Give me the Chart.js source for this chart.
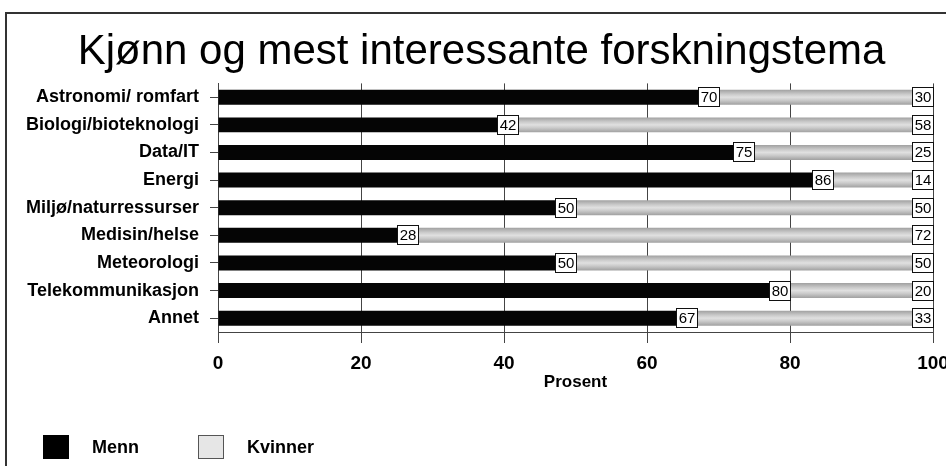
<!DOCTYPE html>
<html><head><meta charset="utf-8">
<script src="https://cdn.jsdelivr.net/npm/chart.js@4/dist/chart.umd.min.js"></script>
<style>
html,body{margin:0;padding:0;background:#fff;overflow:hidden;width:946px;height:466px;}
#wrap{position:absolute;left:0;top:0;width:960px;height:466px;}
#frame{position:absolute;left:5px;top:12px;width:1000px;height:500px;border-left:2px solid #333;border-top:2px solid #333;pointer-events:none;}
</style></head><body>
<div id="wrap"><canvas id="c" width="960" height="466"></canvas></div>
<div id="frame"></div>
<script>
const categories = ['Astronomi/ romfart','Biologi/bioteknologi','Data/IT','Energi','Miljø/naturressurser','Medisin/helse','Meteorologi','Telekommunikasjon','Annet'];
const menn = [70,42,75,86,50,28,50,80,67];
const kvinner = [30,58,25,14,50,72,50,20,33];
const xTicks = [0,20,40,60,80,100];
const seriesNames = ['Menn','Kvinner'];
const titleText = 'Kjønn og mest interessante forskningstema';
const axisTitle = 'Prosent';

const FONT = '"Liberation Sans", Arial, sans-serif';
const INK = '#000';

function greyFill(ctx){
  const chart = ctx.chart;
  const y = chart.scales && chart.scales.y;
  if (!chart.chartArea || !y || ctx.dataIndex === undefined) return '#cfcfcf';
  const c = y.getPixelForValue(ctx.dataIndex);
  const g = chart.ctx.createLinearGradient(0, c - 7.5, 0, c + 7.5);
  g.addColorStop(0, '#a0a0a0');
  g.addColorStop(0.3, '#cacaca');
  g.addColorStop(0.5, '#e0e0e0');
  g.addColorStop(0.7, '#cacaca');
  g.addColorStop(1, '#a0a0a0');
  return g;
}

const titleShift = {
  id: 'titleShift',
  afterLayout(chart){
    if (chart.titleBlock) chart.titleBlock.left = 30;
  }
};

const boxLabels = {
  id: 'boxLabels',
  afterDatasetsDraw(chart){
    const ctx = chart.ctx;
    ctx.save();
    ctx.font = '15px ' + FONT;
    chart.data.datasets.forEach((ds, di) => {
      const meta = chart.getDatasetMeta(di);
      meta.data.forEach((bar, i) => {
        const txt = String(ds.data[i]);
        const w = 22, h = 20;
        const xr = Math.round(bar.x) + 1;
        const yt = Math.round(bar.y - h / 2);
        ctx.fillStyle = '#fff';
        ctx.fillRect(xr - w, yt, w, h);
        ctx.strokeStyle = '#111';
        ctx.lineWidth = 1;
        ctx.strokeRect(xr - w + 0.5, yt + 0.5, w - 1, h - 1);
        ctx.fillStyle = INK;
        ctx.textAlign = 'center';
        ctx.textBaseline = 'middle';
        ctx.fillText(txt, xr - w / 2, yt + h / 2 + 1);
      });
    });
    ctx.restore();
  }
};

const customLegend = {
  id: 'customLegend',
  afterDraw(chart){
    const ctx = chart.ctx;
    ctx.save();
    ctx.font = 'bold 18px ' + FONT;
    ctx.textBaseline = 'middle';
    ctx.textAlign = 'left';
    const items = [
      {x: 43, fill: '#000', stroke: '#000'},
      {x: 198, fill: '#e6e6e6', stroke: '#555'}
    ];
    chart.data.datasets.forEach((ds, i) => {
      const it = items[i];
      ctx.fillStyle = it.fill;
      ctx.fillRect(it.x, 435, 26, 24);
      ctx.strokeStyle = it.stroke;
      ctx.lineWidth = 1;
      ctx.strokeRect(it.x + 0.5, 435.5, 25, 23);
      ctx.fillStyle = INK;
      ctx.fillText(ds.label, it.x + 49, 448);
    });
    ctx.restore();
  }
};

new Chart(document.getElementById('c'), {
  type: 'bar',
  data: {
    labels: categories,
    datasets: [
      {label: seriesNames[0], data: menn, backgroundColor: '#050505', borderWidth: 0},
      {label: seriesNames[1], data: kvinner, backgroundColor: greyFill, borderWidth: 0}
    ]
  },
  options: {
    indexAxis: 'y',
    responsive: false,
    animation: false,
    events: [],
    categoryPercentage: 1,
    barPercentage: 0.54,
    layout: {padding: {left: 0, right: 27, top: 0, bottom: 0}},
    plugins: {
      legend: {display: false},
      tooltip: {enabled: false},
      title: {
        display: true, text: titleText, color: INK,
        font: {family: FONT, size: 42, weight: 'normal', lineHeight: 1.2},
        padding: {top: 27, bottom: 6}
      }
    },
    scales: {
      x: {
        stacked: true, min: 0, max: 100,
        afterBuildTicks: s => { s.ticks = xTicks.map(v => ({value: v})); },
        afterFit: s => { s.height = 134; },
        grid: {color: '#444', lineWidth: 1, tickLength: 11, drawTicks: true},
        border: {display: true, color: '#444', width: 1},
        ticks: {color: INK, font: {family: FONT, size: 19, weight: 'bold'}, padding: 9, maxRotation: 0},
        title: {display: true, text: axisTitle, color: INK,
          font: {family: FONT, size: 17, weight: 'bold', lineHeight: 1.2}, padding: {top: 4, bottom: 73}}
      },
      y: {
        stacked: true,
        afterFit: s => { s.width = 218; },
        grid: {display: true, drawOnChartArea: false, offset: false, color: '#444', tickLength: 8},
        border: {display: true, color: '#444', width: 1},
        ticks: {color: INK, font: {family: FONT, size: 18, weight: 'bold'}, padding: 11}
      }
    }
  },
  plugins: [titleShift, boxLabels, customLegend]
});
</script>
</body></html>
